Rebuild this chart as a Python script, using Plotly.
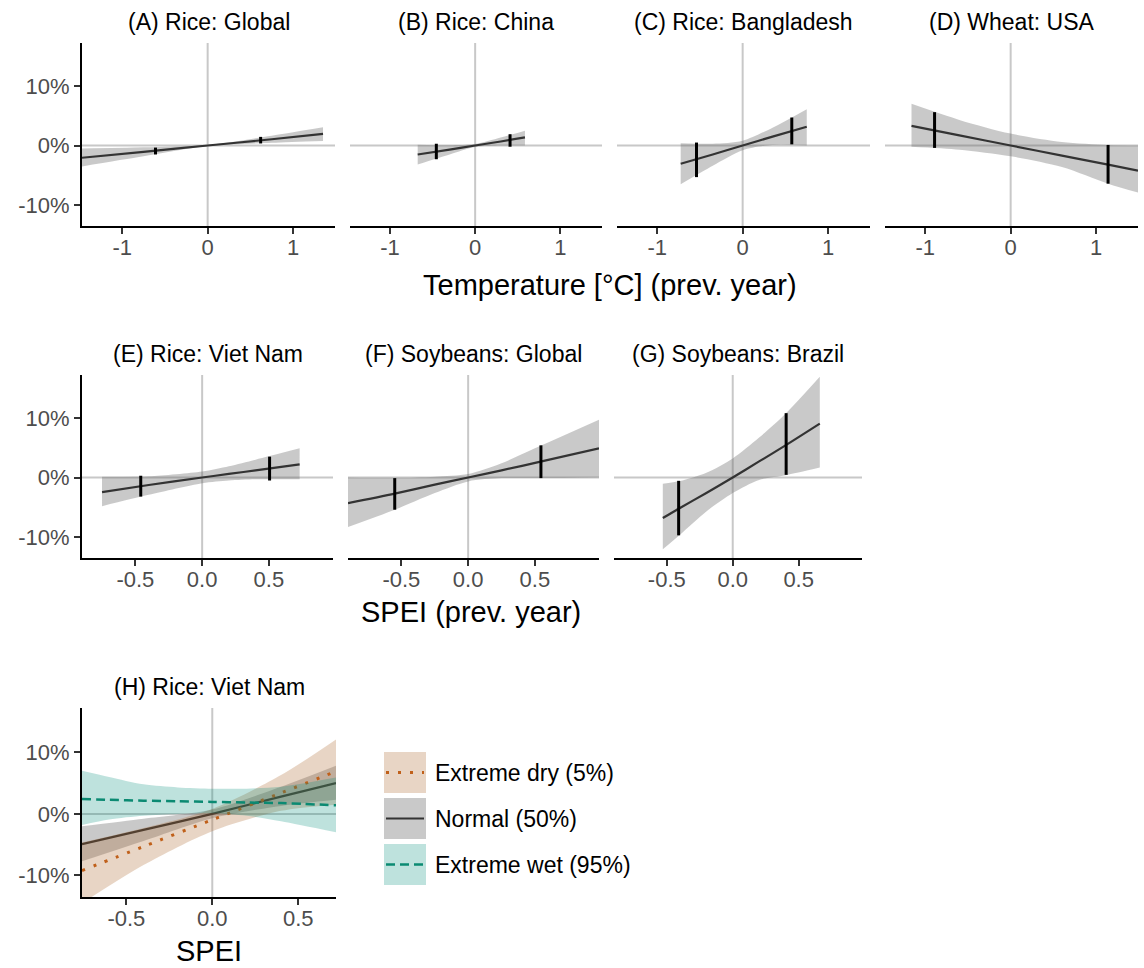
import plotly.graph_objects as go

W, H = 1144, 968
FONT = "Liberation Sans, Arial, sans-serif"

# ---------------- data (percent yield change) ----------------
# (A) Rice: Global  -- temperature anomaly of previous year
A_x = [-1.47, -0.75, 0.0, 0.75, 1.35]
A_fit = [-2.05, -1.05, 0.0, 1.05, 1.95]
A_lo = [-3.5, -1.8, -0.1, 0.45, 0.75]
A_hi = [-0.5, -0.3, 0.1, 1.65, 3.05]
A_bar_x = [-0.61, 0.62]
A_bar_lo = [-1.5, 0.35]
A_bar_hi = [-0.35, 1.45]

# (B) Rice: China
B_x = [-0.675, -0.3, 0.0, 0.3, 0.585]
B_fit = [-1.5, -0.68, 0.0, 0.68, 1.38]
B_lo = [-3.2, -1.5, -0.25, 0.0, 0.0]
B_hi = [0.15, 0.05, 0.25, 1.35, 2.5]
B_bar_x = [-0.456, 0.41]
B_bar_lo = [-2.3, -0.2]
B_bar_hi = [0.3, 1.9]

# (C) Rice: Bangladesh
C_x = [-0.725, -0.35, 0.0, 0.35, 0.75]
C_fit = [-3.05, -1.5, 0.0, 1.5, 3.15]
C_lo = [-6.5, -3.4, -0.8, 0.1, 0.0]
C_hi = [0.4, 0.3, 0.8, 3.0, 6.1]
C_bar_x = [-0.54, 0.575]
C_bar_lo = [-5.3, 0.2]
C_bar_hi = [0.5, 4.7]

# (D) Wheat: USA
D_x = [-1.16, -0.6, 0.0, 0.6, 1.14, 1.49]
D_fit = [3.3, 1.7, 0.0, -1.7, -3.2, -4.2]
D_lo = [-0.2, -0.7, -1.8, -3.6, -6.4, -7.9]
D_hi = [7.0, 4.3, 2.0, 0.6, 0.1, 0.0]
D_bar_x = [-0.89, 1.14]
D_bar_lo = [-0.4, -6.4]
D_bar_hi = [5.6, 0.1]

# (E) Rice: Viet Nam  -- SPEI of previous year
E_x = [-0.75, -0.4, 0.0, 0.2, 0.4, 0.73]
E_fit = [-2.45, -1.25, 0.0, 0.6, 1.2, 2.2]
E_lo = [-4.8, -2.9, -0.95, -0.5, -0.3, -0.3]
E_hi = [0.15, 0.2, 1.0, 1.9, 3.0, 4.9]
E_bar_x = [-0.46, 0.505]
E_bar_lo = [-3.2, -0.5]
E_bar_hi = [0.3, 3.5]

# (F) Soybeans: Global
F_x = [-0.9, -0.55, -0.25, 0.0, 0.25, 0.55, 0.98]
F_fit = [-4.3, -2.7, -1.2, 0.0, 1.2, 2.7, 4.9]
F_lo = [-8.3, -5.4, -2.6, -0.65, -0.1, -0.1, 0.0]
F_hi = [0.0, -0.05, 0.15, 0.6, 2.4, 5.4, 9.7]
F_bar_x = [-0.55, 0.545]
F_bar_lo = [-5.4, -0.1]
F_bar_hi = [-0.1, 5.4]

# (G) Soybeans: Brazil
G_x = [-0.53, -0.4, -0.2, 0.0, 0.2, 0.4, 0.66]
G_fit = [-6.8, -5.1, -2.6, 0.0, 2.7, 5.4, 9.05]
G_lo = [-12.05, -9.6, -5.7, -2.6, -0.4, 0.4, 1.7]
G_hi = [-1.05, -0.6, 0.8, 3.2, 6.7, 10.7, 16.9]
G_bar_x = [-0.41, 0.405]
G_bar_lo = [-9.7, 0.45]
G_bar_hi = [-0.55, 10.8]

# (H) Rice: Viet Nam  -- SPEI, by moisture regime
H_x = [-0.758, -0.4, 0.0, 0.4, 0.72]
dry_fit = [-9.2, -5.3, -0.95, 3.4, 6.9]
dry_lo = [-14.5, -8.3, -2.8, 0.5, 1.5]
dry_hi = [-4.65, -2.3, 0.8, 6.3, 12.1]
normal_fit = [-4.9, -2.6, 0.0, 2.8, 5.0]
normal_lo = [-7.7, -4.4, -0.7, 1.3, 2.3]
normal_hi = [-2.0, -0.8, 0.7, 4.4, 7.8]
wet_x = [-0.758, -0.6, -0.4, -0.2, 0.0, 0.2, 0.4, 0.72]
wet_fit = [2.4, 2.3, 2.15, 2.05, 1.95, 1.85, 1.75, 1.4]
wet_lo = [-1.8, -0.9, -0.3, 0.0, 0.1, -0.3, -1.2, -3.0]
wet_hi = [7.0, 6.0, 4.8, 4.3, 4.1, 4.1, 4.4, 5.9]

# axis ticks
temp_ticks = [-1, 0, 1]
temp_ticktext = ["-1", "0", "1"]
spei_ticks = [-0.5, 0.0, 0.5]
spei_ticktext = ["-0.5", "0.0", "0.5"]
pct_ticks = [-10, 0, 10]
pct_ticktext = ["-10%", "0%", "10%"]

panel_titles = ["(A) Rice: Global", "(B) Rice: China", "(C) Rice: Bangladesh",
                "(D) Wheat: USA", "(E) Rice: Viet Nam", "(F) Soybeans: Global",
                "(G) Soybeans: Brazil", "(H) Rice: Viet Nam"]
legend_labels = ["Extreme dry (5%)", "Normal (50%)", "Extreme wet (95%)"]

# ---------------- styling ----------------
GREY_FILL = "rgba(100,100,100,0.35)"
DRY_FILL = "rgba(170,100,40,0.27)"
WET_FILL = "rgba(0,140,120,0.255)"
DRY_LINE = "#C0601A"
WET_LINE = "#0B8A72"
FIT_LINE = "#333333"
REF_LINE = "#c8c8c8"

Y_RANGE = [-13.5, 17.2]


def px_x(p):
    return p / W


def px_y(p):
    return 1 - p / H


# panel boxes in pixels: (left, right, top, bottom)
ROW1 = (43, 226)
ROW2 = (375, 558)
ROW3 = (708, 897)
boxes = [
    (82, 335) + ROW1, (350, 602) + ROW1, (617, 870) + ROW1, (885, 1138) + ROW1,
    (82, 333) + ROW2, (348, 599) + ROW2, (614, 862) + ROW2,
    (82, 336) + ROW3,
]
x_ranges = [[-1.47, 1.49]] * 4 + [[-0.9, 0.98]] * 3 + [[-0.758, 0.72]]
x_ticks = [(temp_ticks, temp_ticktext)] * 4 + [(spei_ticks, spei_ticktext)] * 4
show_y = [True, False, False, False, True, False, False, True]

fig = go.Figure()
layout = dict(
    width=W, height=H, margin=dict(l=0, r=0, t=0, b=0),
    plot_bgcolor="white", paper_bgcolor="white", showlegend=False,
    font=dict(family=FONT, color="black"),
)
shapes = []
annotations = []


def axname(i, letter):
    return letter if i == 0 else f"{letter}{i + 1}"


for i, (l, r, t, b) in enumerate(boxes):
    xa = dict(
        domain=[px_x(l), px_x(r)], range=x_ranges[i], anchor=axname(i, "y"),
        showgrid=False, zeroline=False, showline=True, linecolor="black", linewidth=2,
        ticks="outside", ticklen=6, tickwidth=2, tickcolor="#333333",
        ticklabelstandoff=-5,
        tickvals=x_ticks[i][0], ticktext=x_ticks[i][1],
        tickfont=dict(size=22, color="#4d4d4d", family=FONT), fixedrange=True,
    )
    ya = dict(
        domain=[px_y(b), px_y(t)], range=Y_RANGE, anchor=axname(i, "x"),
        showgrid=False, zeroline=False, fixedrange=True,
    )
    if show_y[i]:
        ya.update(showline=True, linecolor="black", linewidth=2, ticks="outside",
                  ticklen=6, tickwidth=2, tickcolor="#333333",
                  tickvals=pct_ticks, ticktext=pct_ticktext,
                  tickfont=dict(size=22, color="#4d4d4d", family=FONT))
    else:
        ya.update(visible=False)
    layout["xaxis" if i == 0 else f"xaxis{i + 1}"] = xa
    layout["yaxis" if i == 0 else f"yaxis{i + 1}"] = ya

    xr, yr = axname(i, "x"), axname(i, "y")
    # zero reference lines
    shapes.append(dict(type="line", xref=xr, yref=f"{yr} domain", x0=0, x1=0, y0=0, y1=1,
                       layer="below", line=dict(color=REF_LINE, width=2)))
    shapes.append(dict(type="line", xref=f"{xr} domain", yref=yr, x0=0, x1=1, y0=0, y1=0,
                       layer="below", line=dict(color=REF_LINE, width=2)))
    annotations.append(dict(text=panel_titles[i], xref="paper", yref="paper",
                            x=px_x((l + r) / 2), y=px_y(t - 21), showarrow=False,
                            xanchor="center", yanchor="middle",
                            font=dict(size=23, color="black", family=FONT)))


def add_band(i, x, fit, lo, hi, fill, color, dash="solid", width=2.2):
    xr, yr = axname(i, "x"), axname(i, "y")
    fig.add_trace(go.Scatter(x=x, y=lo, mode="lines", line=dict(width=0, shape="spline", smoothing=0.8),
                             xaxis=xr, yaxis=yr, hoverinfo="skip"))
    fig.add_trace(go.Scatter(x=x, y=hi, mode="lines", line=dict(width=0, shape="spline", smoothing=0.8),
                             fill="tonexty", fillcolor=fill, xaxis=xr, yaxis=yr, hoverinfo="skip"))
    fig.add_trace(go.Scatter(x=x, y=fit, mode="lines",
                             line=dict(color=color, width=width, dash=dash, shape="spline", smoothing=0.8),
                             xaxis=xr, yaxis=yr))


def add_bars(i, bx, blo, bhi):
    xs, ys = [], []
    for xv, a, b in zip(bx, blo, bhi):
        xs += [xv, xv, None]
        ys += [a, b, None]
    fig.add_trace(go.Scatter(x=xs, y=ys, mode="lines", line=dict(color="black", width=3),
                             xaxis=axname(i, "x"), yaxis=axname(i, "y")))


single = [
    (A_x, A_fit, A_lo, A_hi, A_bar_x, A_bar_lo, A_bar_hi),
    (B_x, B_fit, B_lo, B_hi, B_bar_x, B_bar_lo, B_bar_hi),
    (C_x, C_fit, C_lo, C_hi, C_bar_x, C_bar_lo, C_bar_hi),
    (D_x, D_fit, D_lo, D_hi, D_bar_x, D_bar_lo, D_bar_hi),
    (E_x, E_fit, E_lo, E_hi, E_bar_x, E_bar_lo, E_bar_hi),
    (F_x, F_fit, F_lo, F_hi, F_bar_x, F_bar_lo, F_bar_hi),
    (G_x, G_fit, G_lo, G_hi, G_bar_x, G_bar_lo, G_bar_hi),
]
for i, (x, fit, lo, hi, bx, blo, bhi) in enumerate(single):
    add_band(i, x, fit, lo, hi, GREY_FILL, FIT_LINE)
    add_bars(i, bx, blo, bhi)

# panel H: three moisture regimes
add_band(7, H_x, normal_fit, normal_lo, normal_hi, GREY_FILL, FIT_LINE)
add_band(7, H_x, dry_fit, dry_lo, dry_hi, DRY_FILL, DRY_LINE, dash="3px,9px", width=3)
add_band(7, wet_x, wet_fit, wet_lo, wet_hi, WET_FILL, WET_LINE, dash="9px,5px", width=2.5)

# axis titles
annotations += [
    dict(text="Temperature [°C] (prev. year)", x=px_x(610), y=px_y(285)),
    dict(text="SPEI (prev. year)", x=px_x(471), y=px_y(612)),
    dict(text="SPEI", x=px_x(209), y=px_y(951)),
]
for a in annotations[-3:]:
    a.update(xref="paper", yref="paper", showarrow=False, xanchor="center", yanchor="middle",
             font=dict(size=29, color="black", family=FONT))

# legend for panel H
key_fills = [DRY_FILL, GREY_FILL, WET_FILL]
key_lines = [(DRY_LINE, "3px,9px", 3), (FIT_LINE, "solid", 2.2), (WET_LINE, "9px,5px", 2.5)]
key_tops = [752, 798, 844]
for lab, fc, (lc, ld, lw), kt in zip(legend_labels, key_fills, key_lines, key_tops):
    shapes.append(dict(type="rect", xref="paper", yref="paper",
                       x0=px_x(384), x1=px_x(426), y0=px_y(kt + 41), y1=px_y(kt),
                       fillcolor=fc, line=dict(width=0)))
    shapes.append(dict(type="line", xref="paper", yref="paper",
                       x0=px_x(386), x1=px_x(424), y0=px_y(kt + 20.5), y1=px_y(kt + 20.5),
                       line=dict(color=lc, width=lw, dash=ld)))
    annotations.append(dict(text=lab, xref="paper", yref="paper", x=px_x(433),
                            y=px_y(kt + 20.5), xanchor="left", yanchor="middle", showarrow=False,
                            font=dict(size=23, color="black", family=FONT)))

layout["shapes"] = shapes
layout["annotations"] = annotations
fig.update_layout(**layout)
fig.write_html("out.html")
